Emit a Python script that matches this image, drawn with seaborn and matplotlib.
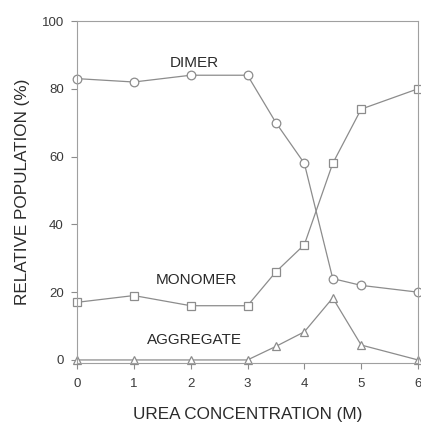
import matplotlib
matplotlib.use("Agg")
import matplotlib.pyplot as plt
import seaborn as sns
import pandas as pd

urea = [0, 1, 2, 3, 3.5, 4, 4.5, 5, 6]
dimer = [83, 82, 84, 84, 70, 58, 24, 22, 20]
monomer = [17, 19, 16, 16, 26, 34, 58, 74, 80]
aggregate = [0, 0, 0, 0, 4, 8.3, 18.3, 4.4, 0]
xticks = [0, 1, 2, 3, 4, 5, 6]
yticks = [0, 20, 40, 60, 80, 100]

sns.set_theme(style="white")
plt.rcParams['font.family'] = ['Liberation Sans', 'DejaVu Sans']

line_c = "#8c8c8c"
text_c = "#2a2a2a"

fig = plt.figure(figsize=(4.21, 4.22), dpi=100)
ax = fig.add_axes([77/421, 1 - 363/422, 341/421, 342/422])

series = [("DIMER", dimer, "o"), ("MONOMER", monomer, "s"), ("AGGREGATE", aggregate, "^")]
for name, vals, mk in series:
    df = pd.DataFrame({"x": urea, "y": vals})
    sns.lineplot(data=df, x="x", y="y", ax=ax, color=line_c, linewidth=0.9,
                 marker=mk, markersize=6.2, markerfacecolor="white",
                 markeredgecolor=line_c, markeredgewidth=0.9, clip_on=False)

ax.text(2.07, 87.5, "DIMER", ha="center", va="center", fontsize=11, color=text_c)
ax.text(2.11, 23.6, "MONOMER", ha="center", va="center", fontsize=11, color=text_c)
ax.text(2.07, 5.9, "AGGREGATE", ha="center", va="center", fontsize=11, color=text_c)

ax.set_xlim(0, 6)
ax.set_ylim(-0.9, 100)
ax.set_xticks(xticks)
ax.set_yticks(yticks)
ax.set_xticklabels([str(t) for t in xticks])
ax.set_yticklabels([str(t) for t in yticks])
ax.tick_params(axis="both", direction="out", width=0.8, color=line_c,
               labelsize=9.5, labelcolor="#3a3a3a")
ax.tick_params(axis="x", bottom=True, length=4, pad=7)
ax.tick_params(axis="y", left=True, length=4.5, pad=5)
for s in ax.spines.values():
    s.set_color("#a0a0a0")
    s.set_linewidth(0.8)
ax.set_xlabel("UREA CONCENTRATION (M)", fontsize=12.3, color=text_c, labelpad=12)
ax.set_ylabel("RELATIVE POPULATION (%)", fontsize=12.3, color=text_c, labelpad=8)
ax.grid(False)

fig.savefig("out.png", dpi=100)
